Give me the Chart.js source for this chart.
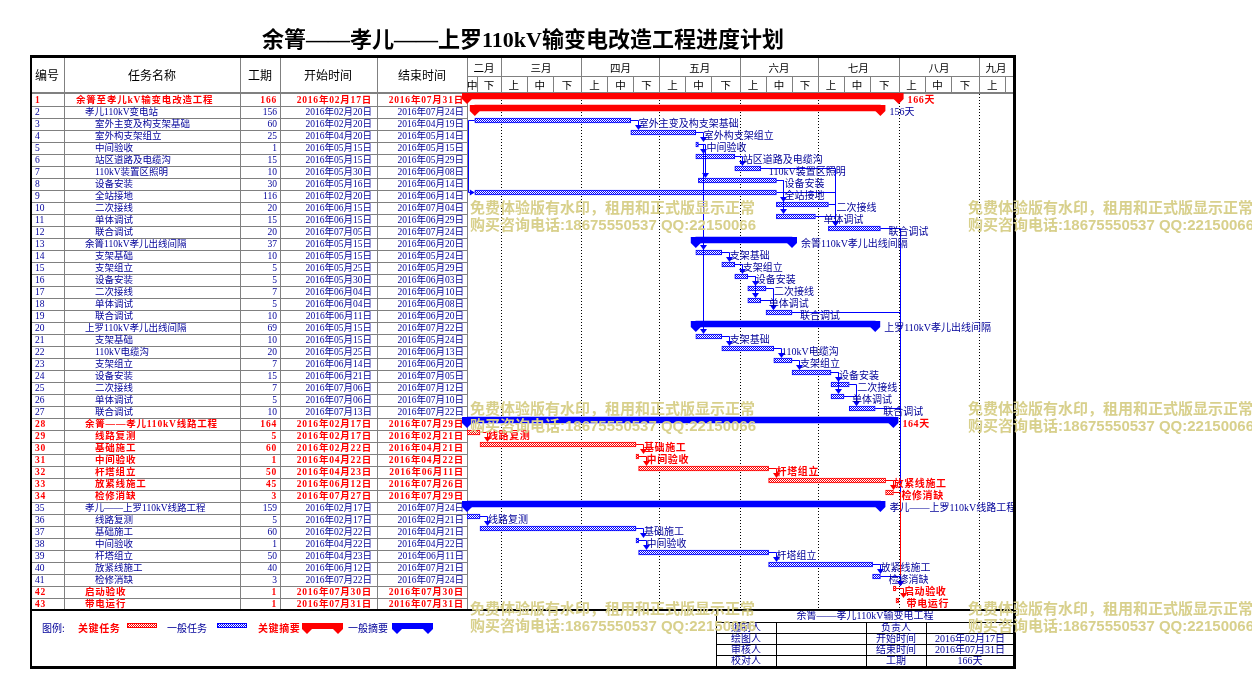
<!DOCTYPE html>
<html><head><meta charset="utf-8">
<script src="https://cdn.jsdelivr.net/npm/chart.js@4.4.0/dist/chart.umd.min.js"></script>
<style>html,body{margin:0;padding:0;background:#fff;overflow:hidden;}canvas{display:block;}</style>
</head><body>
<canvas id="c" width="1252" height="697"></canvas>
<script>
// ---------------- DATA ----------------
const chartTitle = '余箐——孝儿——上罗110kV输变电改造工程进度计划';
const projectName = '余箐——孝儿110kV输变电工程';
const taskIds = [1,2,3,4,5,6,7,8,9,10,11,12,13,14,15,16,17,18,19,20,21,22,23,24,25,26,27,28,29,30,31,32,33,34,35,36,37,38,39,40,41,42,43];
const taskNames = ['余箐至孝儿kV输变电改造工程','孝儿110kV变电站','室外主变及构支架基础','室外构支架组立','中间验收','站区道路及电缆沟','110kV装置区照明','设备安装','全站接地','二次接线','单体调试','联合调试','余箐110kV孝儿出线间隔','支架基础','支架组立','设备安装','二次接线','单体调试','联合调试','上罗110kV孝儿出线间隔','支架基础','110kV电缆沟','支架组立','设备安装','二次接线','单体调试','联合调试','余箐——孝儿110kV线路工程','线路复测','基础施工','中间验收','杆塔组立','放紧线施工','检修消缺','孝儿——上罗110kV线路工程','线路复测','基础施工','中间验收','杆塔组立','放紧线施工','检修消缺','启动验收','带电运行'];
const taskLevels = [0,1,2,2,2,2,2,2,2,2,2,2,1,2,2,2,2,2,2,1,2,2,2,2,2,2,2,1,2,2,2,2,2,2,1,2,2,2,2,2,2,1,1];
const taskDurations = [166,156,60,25,1,15,10,30,116,20,15,20,37,10,5,5,7,5,10,69,10,20,7,15,7,5,10,164,5,60,1,50,45,3,159,5,60,1,50,40,3,1,1];
const taskStarts = ['2016-02-17','2016-02-20','2016-02-20','2016-04-20','2016-05-15','2016-05-15','2016-05-30','2016-05-16','2016-02-20','2016-06-15','2016-06-15','2016-07-05','2016-05-15','2016-05-15','2016-05-25','2016-05-30','2016-06-04','2016-06-04','2016-06-11','2016-05-15','2016-05-15','2016-05-25','2016-06-14','2016-06-21','2016-07-06','2016-07-06','2016-07-13','2016-02-17','2016-02-17','2016-02-22','2016-04-22','2016-04-23','2016-06-12','2016-07-27','2016-02-17','2016-02-17','2016-02-22','2016-04-22','2016-04-23','2016-06-12','2016-07-22','2016-07-30','2016-07-31'];
const taskEnds = ['2016-07-31','2016-07-24','2016-04-19','2016-05-14','2016-05-15','2016-05-29','2016-06-08','2016-06-14','2016-06-14','2016-07-04','2016-06-29','2016-07-24','2016-06-20','2016-05-24','2016-05-29','2016-06-03','2016-06-10','2016-06-08','2016-06-20','2016-07-22','2016-05-24','2016-06-13','2016-06-20','2016-07-05','2016-07-12','2016-07-10','2016-07-22','2016-07-29','2016-02-21','2016-04-21','2016-04-22','2016-06-11','2016-07-26','2016-07-29','2016-07-24','2016-02-21','2016-04-21','2016-04-22','2016-06-11','2016-07-21','2016-07-24','2016-07-30','2016-07-31'];
const summaryRows = [1,2,13,20,28,35];
const criticalRows = [1,28,29,30,31,32,33,34,42,43];
const summaryBarRedRows = [1,2];
const summaryLabels = {1:'166天',2:'156天',13:'余箐110kV孝儿出线间隔',20:'上罗110kV孝儿出线间隔',28:'164天',35:'孝儿——上罗110kV线路工程'};
// dependencies: [predecessor, successor, type]
const dependencies = [[3,4,'FS'],[4,5,'FS'],[5,6,'FS'],[5,8,'FS'],[5,14,'FS'],[5,21,'FS'],[6,7,'FS'],[3,9,'SS'],[8,10,'FS'],[8,11,'FS'],[7,12,'FS'],[9,12,'FS'],[10,12,'FS'],[11,12,'FS'],
  [14,15,'FS'],[15,16,'FS'],[16,17,'FS'],[16,18,'FS'],[17,19,'FS'],[18,19,'FS'],
  [21,22,'FS'],[22,23,'FS'],[23,24,'FS'],[24,25,'FS'],[24,26,'FS'],[25,27,'FS'],[26,27,'FS'],
  [29,30,'FS'],[30,31,'FS'],[31,32,'FS'],[32,33,'FS'],[33,34,'FS'],
  [36,37,'FS'],[37,38,'FS'],[38,39,'FS'],[39,40,'FS'],[40,41,'FS'],
  [12,42,'FS'],[19,42,'FS'],[27,42,'FS'],[34,42,'FS'],[41,42,'FS'],[42,43,'FS']];
const monthNames = ['二月','三月','四月','五月','六月','七月','八月','九月'];
const monthNumbers = [2,3,4,5,6,7,8,9];
const dekadNames = ['上','中','下'];
const dekadStartDays = [1,11,21];
const viewStart = '2016-02-17';
const viewEnd = '2016-09-14';
const tableHeaders = ['编号','任务名称','工期','开始时间','结束时间'];
const legendItems = ['关键任务','一般任务','关键摘要','一般摘要'];
const infoLabels = [['编制人','负责人'],['绘图人','开始时间'],['审核人','结束时间'],['校对人','工期']];
const watermarkLines = ['免费体验版有水印，租用和正式版显示正常','购买咨询电话:18675550537 QQ:22150066'];

// ---------------- HELPERS ----------------
const RED = '#ff0000', BLUE = '#0000ff', NAVY = '#000099', GRAY = '#808080';
const pad2 = n => String(n).padStart(2,'0');
const [vy, vm, vd] = viewStart.split('-').map(Number);
const DAY0 = Date.UTC(vy, vm-1, vd);
function dayOf(s){ const [y,m,d] = s.split('-').map(Number); return (Date.UTC(y,m-1,d)-DAY0)/86400000; }
function fmtDate(s){ const [y,m,d] = s.split('-'); return y+'年'+m+'月'+d+'日'; }
const xMin = 0, xMax = dayOf(viewEnd);

const rows = taskIds.map((id,i)=>({
  id, i, name: taskNames[i], level: taskLevels[i], dur: taskDurations[i],
  s: dayOf(taskStarts[i]), e: dayOf(taskEnds[i]) + 1,
  summary: summaryRows.includes(id), crit: criticalRows.includes(id)
}));
const rowById = {}; rows.forEach(r => rowById[r.id] = r);

const TASK_SHIFT = 3.5/12, SUM_SHIFT = 4/12;

const ctx0 = document.getElementById('c').getContext('2d');
function hatch(color){
  const c = document.createElement('canvas'); c.width = 2; c.height = 2;
  const g = c.getContext('2d');
  g.fillStyle = '#fff'; g.fillRect(0,0,2,2);
  g.fillStyle = color; g.fillRect(0,0,1,1); g.fillRect(1,1,1,1);
  return ctx0.createPattern(c, 'repeat');
}
const redHatch = hatch(RED), blueHatch = hatch(BLUE);

const taskData = f => rows.filter(f).map(r => ({x:[r.s, r.e], y: r.id - TASK_SHIFT}));
const sumData = f => rows.filter(f).map(r => ({x:[r.s, r.e], y: r.id - SUM_SHIFT}));

// months & dekads
const months = monthNumbers.map((m,k)=>{
  const s = dayOf('2016-'+pad2(m)+'-01'), e = dayOf('2016-'+pad2(m+1)+'-01');
  return {name: monthNames[k], s, e, dek: dekadStartDays.map((d,j)=>({name: dekadNames[j], s: dayOf('2016-'+pad2(m)+'-'+pad2(d)), e: j<2 ? dayOf('2016-'+pad2(m)+'-'+pad2(dekadStartDays[j+1])) : e}))};
});

// ---------------- LAYOUT CONSTANTS ----------------
const L = {frameL:30, frameR:1016, frameT:55, frameB:669, headT:58, headMid:76, headB:93, legendT:609,
  cols:[64,240,280,377,467], idX:35, nameX:[76,85,95], durX:277, startX:372, endX:464};

function tableFont(bold, size){ return (bold?'bold ':'') + (size||9.5) + 'px "Liberation Serif", "Noto Sans CJK SC"'; }
function hline(ctx,x1,x2,y){ ctx.beginPath(); ctx.moveTo(x1,y); ctx.lineTo(x2,y); ctx.stroke(); }
function vline(ctx,x,y1,y2){ ctx.beginPath(); ctx.moveTo(x,y1); ctx.lineTo(x,y2); ctx.stroke(); }
function text(ctx,str,x,y,opts){
  ctx.save();
  ctx.font = opts.font; ctx.fillStyle = opts.color || '#000';
  ctx.textAlign = opts.align || 'left'; ctx.textBaseline = 'middle';
  if (opts.ls) ctx.letterSpacing = opts.ls;
  ctx.fillText(str, x, y); ctx.restore();
}
function summaryShape(ctx, left, right, top, h, color){
  ctx.fillStyle = color;
  ctx.fillRect(left-5, top, right-left+10, h);
  const b = top + h;
  ctx.beginPath(); ctx.moveTo(left-5,b); ctx.lineTo(left+5,b); ctx.lineTo(left,b+5); ctx.closePath(); ctx.fill();
  ctx.beginPath(); ctx.moveTo(right-5,b); ctx.lineTo(right+5,b); ctx.lineTo(right,b+5); ctx.closePath(); ctx.fill();
}

const ganttPlugin = {
  id: 'gantt',
  beforeDatasetsDraw(chart){
    const ctx = chart.ctx, xs = chart.scales.x, ys = chart.scales.y, ca = chart.chartArea;
    ctx.save();
    // month dotted lines
    ctx.strokeStyle = '#000'; ctx.lineWidth = 1; ctx.setLineDash([1,2]);
    months.forEach(m => { if (m.s > xMin && m.s < xMax){ const px = Math.round(xs.getPixelForValue(m.s))+0.5; vline(ctx, px, ca.top, ca.bottom); }});
    ctx.setLineDash([]);
    // table grid
    ctx.strokeStyle = GRAY;
    rows.forEach((r,k)=>{ if (k>0){ const y = Math.round(ys.getPixelForValue(r.id-0.5))+0.5; hline(ctx, L.frameL, L.cols[4], y); }});
    L.cols.forEach(x => vline(ctx, x+0.5, L.headT, L.legendT));
    ctx.fillStyle = GRAY; ctx.fillRect(L.frameL, L.headB-1, L.frameR-L.frameL, 2);
    // gantt header
    hline(ctx, L.cols[4], L.frameR, L.headMid+0.5);
    months.forEach(m => {
      const a = Math.max(m.s, xMin), b = Math.min(m.e, xMax);
      if (b <= a) return;
      const pa = xs.getPixelForValue(a), pb = xs.getPixelForValue(b);
      if (m.s > xMin) vline(ctx, Math.round(pa)+0.5, L.headT, L.headB);
      text(ctx, m.name, (pa+pb)/2, (L.headT+L.headMid)/2+1, {font:'10.5px "Noto Sans CJK SC"', align:'center'});
      m.dek.forEach(d => {
        const da = Math.max(d.s, xMin), db = Math.min(d.e, xMax);
        if (db <= da) return;
        const qa = xs.getPixelForValue(da), qb = xs.getPixelForValue(db);
        if (d.s > xMin && d.s !== m.s) vline(ctx, Math.round(qa)+0.5, L.headMid, L.headB);
        if (qb - qa >= 10) text(ctx, d.name, (qa+qb)/2, (L.headMid+L.headB)/2+1, {font:'10.5px "Noto Sans CJK SC"', align:'center'});
      });
    });
    // table header text
    const hx = [47, 152, 260, 328, 422];
    tableHeaders.forEach((h,k)=> text(ctx, h, hx[k], 75.5, {font:'12px "Noto Sans CJK SC"', align:'center'}));
    // table rows
    rows.forEach(r => {
      const y = ys.getPixelForValue(r.id) + 0.5;
      const o = {font: tableFont(r.crit), color: r.crit ? RED : NAVY, ls: r.crit ? '0.8px' : null};
      text(ctx, String(r.id), L.idX, y, o);
      text(ctx, r.name, L.nameX[r.level], y, o);
      text(ctx, String(r.dur), L.durX, y, Object.assign({}, o, {align:'right'}));
      text(ctx, fmtDate(taskStarts[r.i]), L.startX, y, Object.assign({}, o, {align:'right'}));
      text(ctx, fmtDate(taskEnds[r.i]), L.endX, y, Object.assign({}, o, {align:'right'}));
    });
    ctx.restore();
  },
  afterDatasetsDraw(chart){
    const ctx = chart.ctx, xs = chart.scales.x, ys = chart.scales.y;
    ctx.save();
    // summary end caps
    rows.filter(r=>r.summary).forEach(r=>{
      const left = xs.getPixelForValue(r.s), right = xs.getPixelForValue(r.e);
      const top = ys.getPixelForValue(r.id - SUM_SHIFT) - 3;
      summaryShape(ctx, left, right, top, 6, summaryBarRedRows.includes(r.id) ? RED : BLUE);
    });
    // dependency links
    const cy = r => ys.getPixelForValue(r.id - TASK_SHIFT);
    dependencies.forEach(([p,s,t])=>{
      const P = rowById[p], S = rowById[s];
      const col = (P.crit && S.crit) ? RED : BLUE;
      ctx.strokeStyle = col; ctx.fillStyle = col; ctx.lineWidth = 1;
      if (t === 'SS'){
        const x1 = xs.getPixelForValue(P.s), lx = Math.round(x1 - 7) + 0.5;
        const y1 = cy(P), y2 = cy(S), sx = xs.getPixelForValue(S.s);
        ctx.beginPath(); ctx.moveTo(x1, y1); ctx.lineTo(lx, y1); ctx.lineTo(lx, y2); ctx.lineTo(sx-4, y2); ctx.stroke();
        ctx.beginPath(); ctx.moveTo(sx-5, y2-3); ctx.lineTo(sx-5, y2+3); ctx.lineTo(sx, y2); ctx.closePath(); ctx.fill();
      } else {
        const x1 = xs.getPixelForValue(P.e), y1 = cy(P);
        const ax = Math.round(xs.getPixelForValue(S.s) + 7) + 0.5;
        const yTop = cy(S) - 2.5;
        ctx.beginPath(); ctx.moveTo(x1, y1); ctx.lineTo(ax, y1); ctx.lineTo(ax, yTop-4); ctx.stroke();
        ctx.beginPath(); ctx.moveTo(ax-3.5, yTop-5); ctx.lineTo(ax+3.5, yTop-5); ctx.lineTo(ax, yTop); ctx.closePath(); ctx.fill();
      }
    });
    // bar labels
    rows.forEach(r=>{
      const right = xs.getPixelForValue(r.e);
      const y = ys.getPixelForValue(r.id) + 0.5;
      const lab = r.summary ? summaryLabels[r.id] : r.name;
      text(ctx, lab, right + (r.summary ? 9 : 8), y, {font: (r.crit?'bold ':'') + '10px "Liberation Serif", "Noto Sans CJK SC"', color: r.crit ? RED : NAVY, ls: r.crit ? '0.6px' : null});
    });
    ctx.restore();
  },
  afterDraw(chart){
    const ctx = chart.ctx;
    ctx.save();
    // title
    text(ctx, chartTitle, (L.frameL+L.frameR)/2, 41, {font:'bold 22px "Liberation Serif", "Noto Sans CJK SC"', color:'#000', align:'center'});
    // legend
    text(ctx, '图例:', 42, 628.5, {font:'10px "Noto Sans CJK SC"', color:NAVY});
    text(ctx, legendItems[0], 78, 628.5, {font:'bold 10px "Noto Sans CJK SC"', color:RED, ls:'0.6px'});
    ctx.fillStyle = redHatch; ctx.fillRect(127, 623, 30, 5); ctx.strokeStyle = RED; ctx.strokeRect(127.5, 623.5, 29, 4);
    text(ctx, legendItems[1], 167, 628.5, {font:'10px "Noto Sans CJK SC"', color:NAVY});
    ctx.fillStyle = blueHatch; ctx.fillRect(217, 623, 30, 5); ctx.strokeStyle = BLUE; ctx.strokeRect(217.5, 623.5, 29, 4);
    text(ctx, legendItems[2], 258, 628.5, {font:'bold 10px "Noto Sans CJK SC"', color:RED, ls:'0.6px'});
    summaryShape(ctx, 307, 338, 623, 6, RED);
    text(ctx, legendItems[3], 348, 628.5, {font:'10px "Noto Sans CJK SC"', color:NAVY});
    summaryShape(ctx, 397, 428, 623, 6, BLUE);
    // info table
    ctx.strokeStyle = '#000'; ctx.lineWidth = 1;
    vline(ctx, 716.5, L.legendT+2, 666);
    [622.5, 633.5, 644.5, 655.5].forEach(y => hline(ctx, 716, 1013, y));
    [776.5, 866.5, 926.5].forEach(x => vline(ctx, x, 622.5, 666));
    const f10 = '10px "Liberation Serif", "Noto Sans CJK SC"';
    text(ctx, projectName, 865, 616.5, {font:f10, color:NAVY, align:'center'});
    const vals = ['', fmtDate(taskStarts[0]), fmtDate(taskEnds[0]), taskDurations[0] + '天'];
    infoLabels.forEach((pair,k)=>{
      const y = 628.5 + k*11;
      text(ctx, pair[0], 746, y, {font:f10, color:NAVY, align:'center'});
      text(ctx, pair[1], 896, y, {font:f10, color:NAVY, align:'center'});
      text(ctx, vals[k], 970, y, {font:f10, color:NAVY, align:'center'});
    });
    // frame
    ctx.fillStyle = '#000';
    ctx.fillRect(L.frameL, L.frameT, L.frameR-L.frameL, 3);
    ctx.fillRect(L.frameL, L.frameT, 2, L.frameB-L.frameT);
    ctx.fillRect(L.frameR-3, L.frameT, 3, L.frameB-L.frameT);
    ctx.fillRect(L.frameL, L.frameB-3, L.frameR-L.frameL, 3);
    ctx.fillRect(L.frameL, L.legendT, L.frameR-L.frameL, 2);
    // watermark
    const wf = 'bold 15px "Liberation Sans", "Noto Sans CJK SC"';
    [[470,208.5],[968,208.5],[470,409.5],[968,409.5],[470,609.5],[968,609.5]].forEach(([x,y])=>{
      text(ctx, watermarkLines[0], x, y, {font:wf, color:'#d8d08c'});
      text(ctx, watermarkLines[1], x, y+17, {font:wf, color:'#d8d08c'});
    });
    ctx.restore();
  }
};

new Chart(document.getElementById('c'), {
  type: 'bar',
  data: { datasets: [
    {label:'一般任务', data: taskData(r=>!r.summary && !r.crit), backgroundColor: blueHatch, borderColor: BLUE, borderWidth:1, borderSkipped:false, barThickness:5, grouped:false},
    {label:'关键任务', data: taskData(r=>!r.summary && r.crit), backgroundColor: redHatch, borderColor: RED, borderWidth:1, borderSkipped:false, barThickness:5, grouped:false},
    {label:'关键摘要', data: sumData(r=>r.summary && summaryBarRedRows.includes(r.id)), backgroundColor: RED, borderWidth:0, barThickness:6, grouped:false},
    {label:'一般摘要', data: sumData(r=>r.summary && !summaryBarRedRows.includes(r.id)), backgroundColor: BLUE, borderWidth:0, barThickness:6, grouped:false}
  ]},
  options: {
    indexAxis: 'y', responsive: false, animation: false, devicePixelRatio: 1,
    layout: { padding: { left: 467, right: 1252-1013, top: 94, bottom: 697-610 } },
    plugins: { legend: {display:false}, tooltip: {enabled:false}, title:{display:false} },
    scales: {
      x: { type:'linear', min: xMin, max: xMax, display:false, offset:false, grid:{offset:false} },
      y: { type:'linear', min: 0.5, max: taskIds.length + 0.5, reverse: true, display:false, offset:false, grid:{offset:false} }
    }
  },
  plugins: [ganttPlugin]
});
</script>
</body></html>
